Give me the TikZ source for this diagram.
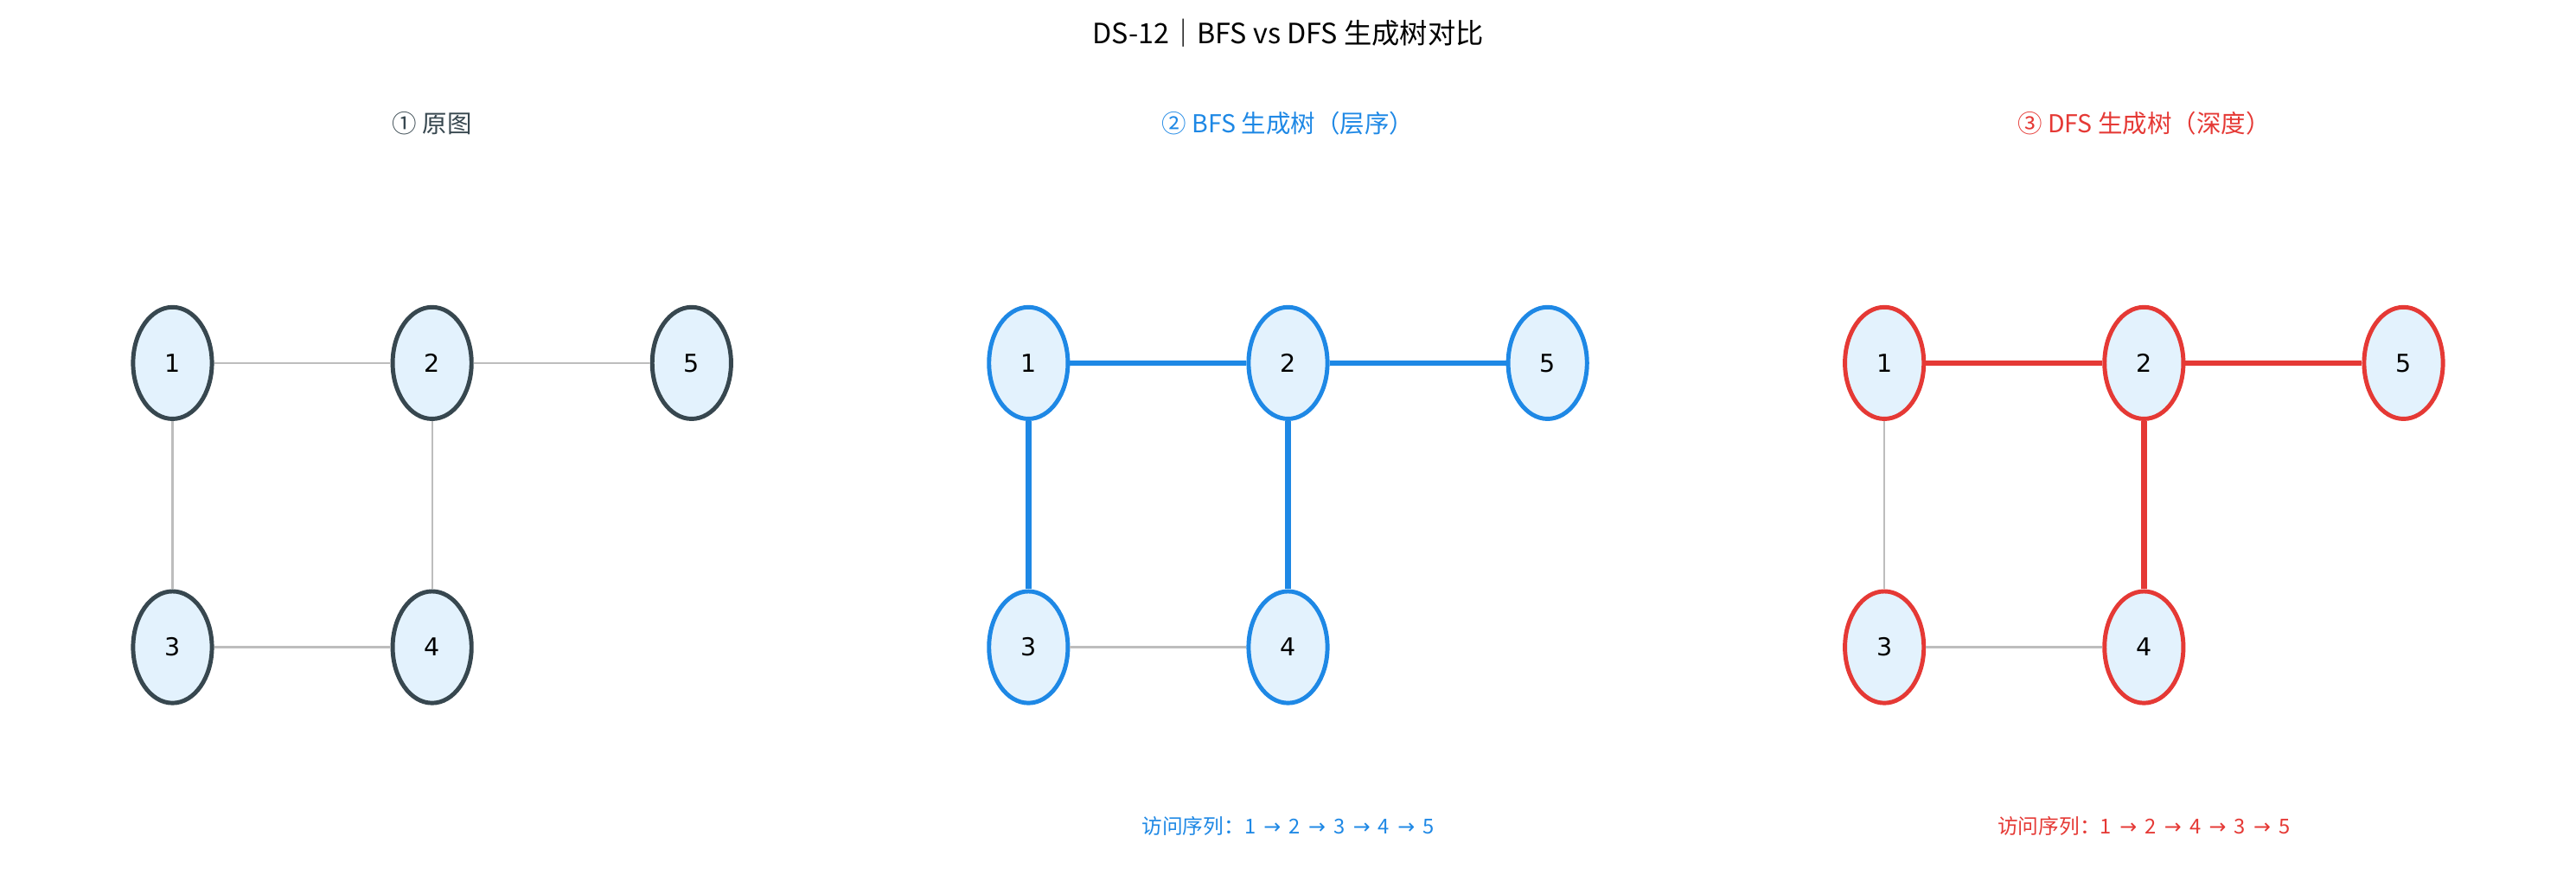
\documentclass[tikz,border=0pt]{standalone}
\usepackage{fontspec}
\usetikzlibrary{shapes.geometric}
\newfontfamily\cjk{Noto Sans CJK SC}
\newfontfamily\numf{DejaVu Sans}
\definecolor{dk}{HTML}{37474F}
\definecolor{bl}{HTML}{1E88E5}
\definecolor{rd}{HTML}{E53935}
\definecolor{fl}{HTML}{E3F2FD}
\definecolor{gr}{HTML}{BDBDBD}
\tikzset{
 vtx/.style={ellipse,draw=#1,fill=fl,line width=2.6pt,minimum width=48pt,minimum height=68pt,inner sep=0pt,font=\numf\fontsize{15}{15}\selectfont},
 ge/.style={draw=gr,line width=1.2pt},
 te/.style={draw=#1,line width=3.4pt},
 ttl/.style={font=\cjk\fontsize{17}{20}\selectfont},
 sub/.style={font=\cjk\fontsize{15}{18}\selectfont,text=#1},
 seq/.style={font=\cjk\fontsize{12.5}{15}\selectfont,text=#1}
}
\begin{document}
\begin{tikzpicture}[x=1pt,y=-1pt]
\useasboundingbox (0,0) rectangle (1568,536);
\node[ttl] (title) at (784,20) {DS-12｜BFS vs DFS 生成树对比};
\node[sub=dk] (s1) at (263,75) {① 原图};
\node[sub=bl] (s2) at (784,75) {② BFS 生成树（层序）};
\node[sub=rd] (s3) at (1305,75) {③ DFS 生成树（深度）};
% panel 1
\node[vtx=dk] (a1) at (105,221) {1};
\node[vtx=dk] (a2) at (263,221) {2};
\node[vtx=dk] (a5) at (421,221) {5};
\node[vtx=dk] (a3) at (105,394) {3};
\node[vtx=dk] (a4) at (263,394) {4};
\draw[ge] (a1)--(a2); \draw[ge] (a2)--(a5); \draw[ge] (a1)--(a3); \draw[ge] (a3)--(a4); \draw[ge] (a2)--(a4);
% panel 2
\node[vtx=bl] (b1) at (626,221) {1};
\node[vtx=bl] (b2) at (784,221) {2};
\node[vtx=bl] (b5) at (942,221) {5};
\node[vtx=bl] (b3) at (626,394) {3};
\node[vtx=bl] (b4) at (784,394) {4};
\draw[te=bl] (b1)--(b2); \draw[te=bl] (b2)--(b5); \draw[te=bl] (b1)--(b3); \draw[ge] (b3)--(b4); \draw[te=bl] (b2)--(b4);
\node[seq=bl] (q2) at (784,503) {访问序列：1 \,{\numf→}\, 2 \,{\numf→}\, 3 \,{\numf→}\, 4 \,{\numf→}\, 5};
% panel 3
\node[vtx=rd] (c1) at (1147,221) {1};
\node[vtx=rd] (c2) at (1305,221) {2};
\node[vtx=rd] (c5) at (1463,221) {5};
\node[vtx=rd] (c3) at (1147,394) {3};
\node[vtx=rd] (c4) at (1305,394) {4};
\draw[te=rd] (c1)--(c2); \draw[te=rd] (c2)--(c5); \draw[ge] (c1)--(c3); \draw[ge] (c3)--(c4); \draw[te=rd] (c2)--(c4);
\node[seq=rd] (q3) at (1305,503) {访问序列：1 \,{\numf→}\, 2 \,{\numf→}\, 4 \,{\numf→}\, 3 \,{\numf→}\, 5};
\end{tikzpicture}
\end{document}
